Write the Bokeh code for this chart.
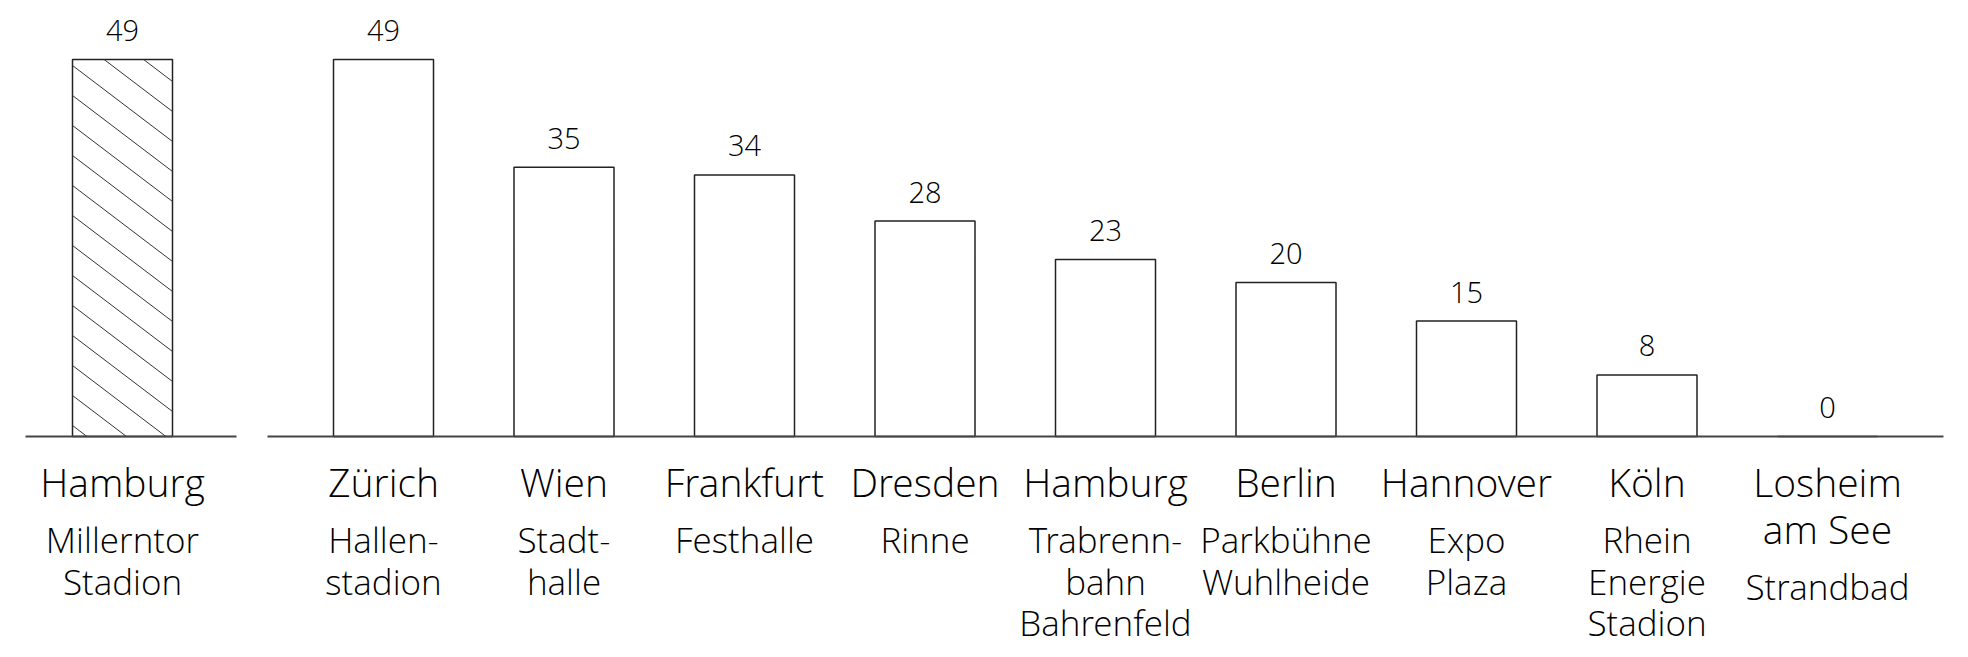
from bokeh.plotting import figure
from bokeh.models import ColumnDataSource
from bokeh.core.properties import value
from bokeh.embed import file_html
from bokeh.resources import INLINE

# ---------------- data ----------------
highlight_cities = ["Hamburg"]
highlight_venues = ["Millerntor\nStadion"]
highlight_values = [49]

cities = ["Zürich", "Wien", "Frankfurt", "Dresden", "Hamburg", "Berlin",
          "Hannover", "Köln", "Losheim\nam See"]
venues = ["Hallen-\nstadion", "Stadt-\nhalle", "Festhalle", "Rinne",
          "Trabrenn-\nbahn\nBahrenfeld", "Parkbühne\nWuhlheide", "Expo\nPlaza",
          "Rhein\nEnergie\nStadion", "Strandbad"]
values = [49, 35, 34, 28, 23, 20, 15, 8, 0]

# ---------------- layout / style ----------------
W, H = 1968, 657
STEP = 180.5          # px between bar slots
BAR_PX = 100          # bar width in px
PXV = 7.694           # px per value unit
FIRST_X_PX = 383      # plot px of first regular slot centre
BASE_Y_PX = 436       # plot px of baseline from top
HL_SHIFT_PX = 261     # highlight bar distance left of first slot
FONT = "'Open Sans Light', 'Lato Light', 'Open Sans'"
TXT = "#000000"

x_start = -FIRST_X_PX / STEP
x_end = (W - FIRST_X_PX) / STEP
y_end = BASE_Y_PX / PXV
y_start = -(H - BASE_Y_PX) / PXV

p = figure(width=W, height=H, x_range=(x_start, x_end), y_range=(y_start, y_end),
           x_axis_type=None, y_axis_type=None, toolbar_location=None,
           output_backend="svg", min_border=0, outline_line_color=None,
           background_fill_color="white", border_fill_color="white")

bw = BAR_PX / STEP
hl_x = [-HL_SHIFT_PX / STEP + i for i in range(len(highlight_values))]
xs = list(range(len(values)))

# bars
p.vbar(x=hl_x, top=highlight_values, width=bw, bottom=0, fill_color="white",
       line_color="#222222", line_width=1.5)
p.vbar(x=xs, top=values, width=bw, bottom=0, fill_color="white",
       line_color="#222222", line_width=1.5)

# hatch for highlight bar (computed in pixel space, converted to data)
SLOPE, SPACING, PHASE = 0.76, 30.0, 6.0
hx0, hx1, hy0, hy1 = [], [], [], []
for cx, v in zip(hl_x, highlight_values):
    wpx = BAR_PX
    hpx = v * PXV
    left = cx - bw / 2
    k = -int(SLOPE * wpx / SPACING) - 2
    while True:
        c = PHASE + SPACING * k
        if c > hpx:
            break
        xa = max(0.0, -c / SLOPE)
        xb = min(wpx, (hpx - c) / SLOPE)
        if xa < xb:
            hx0.append(left + xa / STEP)
            hx1.append(left + xb / STEP)
            hy0.append(v - (c + SLOPE * xa) / PXV)
            hy1.append(v - (c + SLOPE * xb) / PXV)
        k += 1
p.segment(x0=hx0, y0=hy0, x1=hx1, y1=hy1, line_color="#333333", line_width=1)

# baselines
p.segment(x0=[hl_x[0] - (BAR_PX / 2 + 47) / STEP, xs[0] - (BAR_PX / 2 + 66) / STEP],
          x1=[hl_x[-1] + (BAR_PX / 2 + 64) / STEP, xs[-1] + (BAR_PX / 2 + 66) / STEP],
          y0=[0, 0], y1=[0, 0], line_color="#444444", line_width=2)

# value labels
all_x = hl_x + xs
all_v = highlight_values + values
p.text(x=all_x, y=all_v, text=[str(v) for v in all_v], y_offset=-29,
       text_align="center", text_baseline="alphabetic",
       text_font=value(FONT), text_font_size="29px", text_color=TXT)

# category labels
CITY_OFF, CITY_LH, VENUE_GAP, VENUE_LH = 45, 47, 58, 41.5
cx_, ct_, co_ = [], [], []
vx_, vt_, vo_ = [], [], []
for x, c, vn in zip(all_x, highlight_cities + cities, highlight_venues + venues):
    clines = c.split("\n")
    for j, line in enumerate(clines):
        cx_.append(x); ct_.append(line); co_.append(CITY_OFF + j * CITY_LH)
    vstart = CITY_OFF + (len(clines) - 1) * CITY_LH + VENUE_GAP
    for j, line in enumerate(vn.split("\n")):
        vx_.append(x); vt_.append(line); vo_.append(vstart + j * VENUE_LH)

p.text(source=ColumnDataSource(dict(x=cx_, y=[0] * len(cx_), t=ct_, o=co_)),
       x="x", y="y", text="t", y_offset="o", text_align="center",
       text_baseline="alphabetic", text_font=value(FONT), text_font_size="39px",
       text_color=TXT)
p.text(source=ColumnDataSource(dict(x=vx_, y=[0] * len(vx_), t=vt_, o=vo_)),
       x="x", y="y", text="t", y_offset="o", text_align="center",
       text_baseline="alphabetic", text_font=value(FONT), text_font_size="35px",
       text_color=TXT)

open("out.html", "w").write(file_html(p, INLINE))
